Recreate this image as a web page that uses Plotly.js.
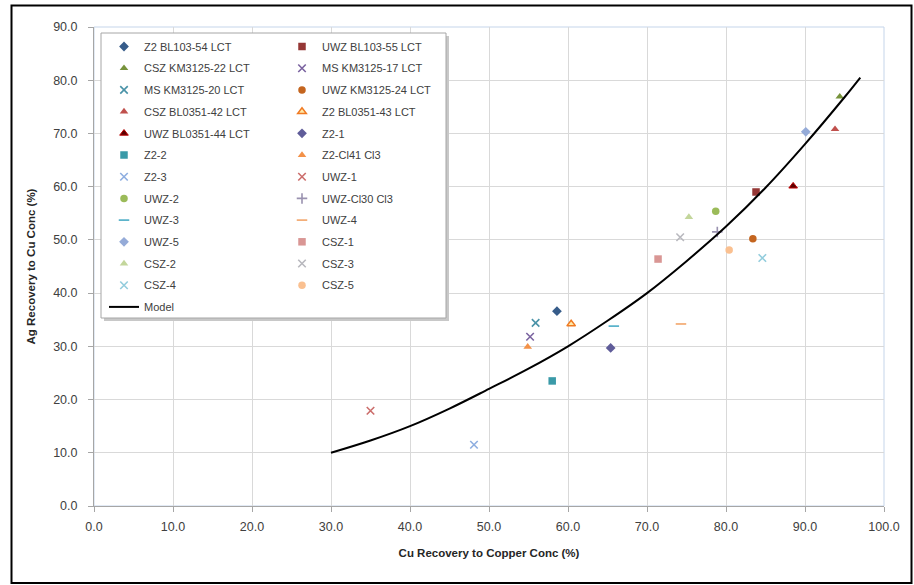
<!DOCTYPE html>
<html>
<head>
<meta charset="utf-8">
<script src="https://cdn.plot.ly/plotly-3.0.1.min.js"></script>
<style>html,body{margin:0;padding:0;background:#fff;}#chart{width:914px;height:585px;}</style>
</head>
<body>
<div id="chart"></div>
<script>
// ---- Data ----
const seriesNames = [
  "Z2 BL103-54 LCT", "UWZ BL103-55 LCT", "CSZ KM3125-22 LCT", "MS KM3125-17 LCT",
  "MS KM3125-20 LCT", "UWZ KM3125-24 LCT", "CSZ BL0351-42 LCT", "Z2 BL0351-43 LCT",
  "UWZ BL0351-44 LCT", "Z2-1", "Z2-2", "Z2-Cl41 Cl3", "Z2-3", "UWZ-1", "UWZ-2",
  "UWZ-Cl30 Cl3", "UWZ-3", "UWZ-4", "UWZ-5", "CSZ-1", "CSZ-2", "CSZ-3", "CSZ-4", "CSZ-5"
];
const cuRecovery = [
  58.6, 83.8, 94.4, 55.2,
  55.9, 83.4, 93.8, 60.4,
  88.5, 65.4, 58.0, 54.9, 48.1, 35.0, 78.7,
  78.9, 65.8, 74.3, 90.1, 71.4, 75.3, 74.2, 84.6, 80.4
];
const agRecovery = [
  36.6, 59.0, 76.9, 31.8,
  34.4, 50.2, 70.8, 34.2,
  60.1, 29.7, 23.5, 29.9, 11.5, 17.9, 55.4,
  51.5, 33.8, 34.2, 70.3, 46.4, 54.3, 50.5, 46.6, 48.1
];
const modelCu = [30, 35, 40, 45, 50, 55, 60, 65, 70, 75, 80, 85, 90, 95, 97];
const modelAg = [10.0, 12.3, 15.0, 18.3, 22.0, 25.8, 30.0, 34.8, 40.0, 46.0, 52.5, 59.8, 68.0, 76.8, 80.5];
const tickVals = [0, 10, 20, 30, 40, 50, 60, 70, 80, 90, 100];

// ---- Styles ----
const styles = [
  {symbol: "diamond", color: "#365C8A"},
  {symbol: "square", color: "#953735"},
  {symbol: "triangle-up", color: "#77933C"},
  {symbol: "x-thin", color: "#7A63A0"},
  {symbol: "x-thin", color: "#4A93A8"},
  {symbol: "circle", color: "#C4651F"},
  {symbol: "triangle-up", color: "#C0504D"},
  {symbol: "triangle-up", color: "#FFE9A8", line: "#F07A22", lw: 1.5},
  {symbol: "triangle-up", color: "#5A0000", line: "#C00000", lw: 1},
  {symbol: "diamond", color: "#5F5C99"},
  {symbol: "square", color: "#3A9AA8"},
  {symbol: "triangle-up", color: "#F39148"},
  {symbol: "x-thin", color: "#8EAEE0"},
  {symbol: "x-thin", color: "#CC6E6C"},
  {symbol: "circle", color: "#9BBB59"},
  {symbol: "cross-thin", color: "#9A92B0"},
  {symbol: "line-ew", color: "#4BACC6"},
  {symbol: "line-ew", color: "#F2A56A"},
  {symbol: "diamond", color: "#95ABD8"},
  {symbol: "square", color: "#D99694"},
  {symbol: "triangle-up", color: "#C3D69B"},
  {symbol: "x-thin", color: "#B8B8BE"},
  {symbol: "x-thin", color: "#93CDDD"},
  {symbol: "circle", color: "#FAC090"}
];
const lineSymbols = ["x-thin", "cross-thin", "line-ew"];

const traces = [];
seriesNames.forEach((name, i) => {
  const st = styles[i];
  const isLine = lineSymbols.includes(st.symbol);
  const col = i % 2; // Excel fills legend row by row, two columns
  traces.push({
    type: "scatter", mode: "markers", name: name,
    x: [cuRecovery[i]], y: [agRecovery[i]],
    legend: col === 0 ? "legend" : "legend2",
    legendgroup: "g" + i,
    marker: {
      symbol: st.symbol,
      size: 7.5,
      color: st.color,
      line: isLine ? {color: st.color, width: 1.6} : {color: st.line || st.color, width: st.lw || 0}
    },
    hoverinfo: "x+y+name"
  });
});
traces.push({
  type: "scatter", mode: "lines", name: "Model",
  x: modelCu, y: modelAg,
  legend: "legend", legendgroup: "model",
  line: {color: "#000000", width: 2, shape: "spline"}
});

const L = 94, R = 30, T = 27, B = 79;
const W = 914 - L - R, H = 585 - T - B;
const px = p => (p - L) / W;
const py = p => (585 - B - p) / H;

const legendFont = {family: "Liberation Sans, Arial, sans-serif", size: 11, color: "#404040"};

const layout = {
  width: 914, height: 585,
  margin: {l: L, r: R, t: T, b: B},
  paper_bgcolor: "#ffffff", plot_bgcolor: "#ffffff",
  font: {family: "Liberation Sans, Arial, sans-serif", size: 11, color: "#404040"},
  showlegend: true,
  xaxis: {
    range: [0, 100], tickvals: tickVals, tickformat: ".1f",
    showgrid: true, gridcolor: "#D9D9D9", gridwidth: 1,
    zeroline: false, showline: true, linecolor: "#A6A6A6", linewidth: 1,
    ticks: "outside", ticklen: 5, tickcolor: "#A6A6A6",
    ticklabelstandoff: 4,
    tickfont: {size: 12.5, color: "#404040"},
    title: {text: "<b>Cu Recovery to Copper Conc (%)</b>", font: {size: 11.5, color: "#262626"}, standoff: 15}
  },
  yaxis: {
    range: [0, 90], tickvals: tickVals.slice(0, 10), tickformat: ".1f",
    showgrid: true, gridcolor: "#D9D9D9", gridwidth: 1,
    zeroline: false, showline: true, linecolor: "#A6A6A6", linewidth: 1,
    ticks: "outside", ticklen: 5, tickcolor: "#A6A6A6",
    ticklabelstandoff: 8,
    tickfont: {size: 12.5, color: "#404040"},
    title: {text: "<b>Ag Recovery to Cu Conc (%)</b>", font: {size: 11.5, color: "#262626"}, standoff: 15}
  },
  legend: {
    x: px(104), y: py(32), xanchor: "left", yanchor: "top",
    bgcolor: "rgba(0,0,0,0)", borderwidth: 0,
    font: legendFont, tracegroupgap: 2.7, itemclick: false
  },
  legend2: {
    x: px(282), y: py(32), xanchor: "left", yanchor: "top",
    bgcolor: "rgba(0,0,0,0)", borderwidth: 0,
    font: legendFont, tracegroupgap: 2.7, itemclick: false
  },
  shapes: [
    // plot area border (top/right)
    {type: "rect", xref: "paper", yref: "paper", x0: 0, x1: 1, y0: 0, y1: 1,
     line: {color: "#C5D5EA", width: 1}, fillcolor: "rgba(0,0,0,0)", layer: "below"},
    // legend shadow
    {type: "rect", xref: "paper", yref: "paper", x0: px(104), x1: px(449), y0: py(321), y1: py(36),
     line: {width: 0}, fillcolor: "#C8C8C8", layer: "above"},
    // legend box
    {type: "rect", xref: "paper", yref: "paper", x0: px(101), x1: px(446), y0: py(318), y1: py(33),
     line: {color: "#A6A6A6", width: 1}, fillcolor: "#ffffff", layer: "above"},
    // outer chart frame
    {type: "rect", xref: "paper", yref: "paper", x0: px(11.5), x1: px(911.5), y0: py(583), y1: py(5.5),
     line: {color: "#000000", width: 2}, fillcolor: "rgba(0,0,0,0)", layer: "above"}
  ]
};

Plotly.newPlot("chart", traces, layout, {displayModeBar: false, staticPlot: true});
</script>
</body>
</html>
